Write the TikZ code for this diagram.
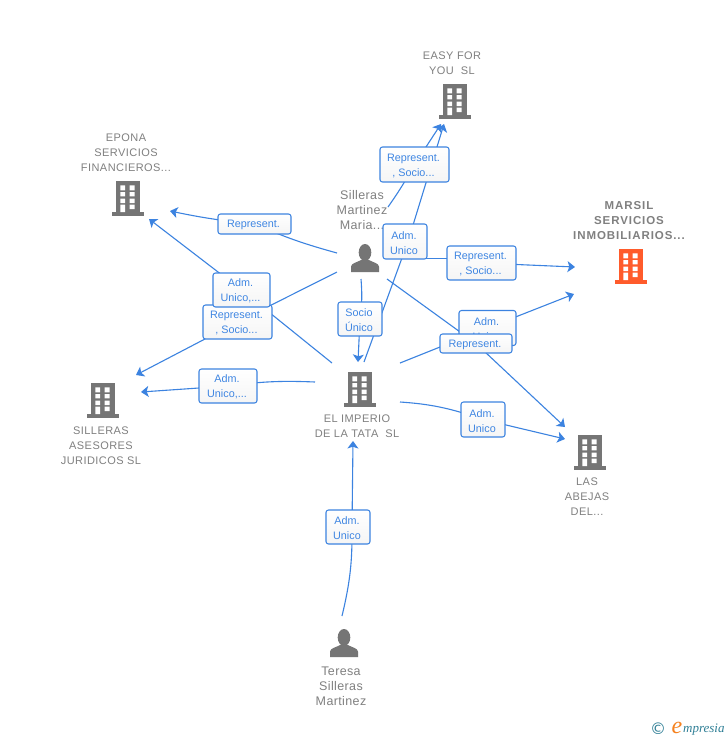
\documentclass[tikz,border=0pt]{standalone}
\usepackage{fontspec}
\setmainfont{Liberation Sans}
\newfontfamily\logoserif{Liberation Serif}
\newfontfamily\logosym{DejaVu Sans}
\usetikzlibrary{arrows.meta,shapes.geometric}
\definecolor{conn}{HTML}{3C83E0}
\definecolor{lbltext}{HTML}{3F86E2}
\definecolor{icongrey}{HTML}{757575}
\definecolor{titlegrey}{HTML}{808080}
\definecolor{orangeicon}{HTML}{FF5B2B}
\definecolor{logoteal}{HTML}{2F7F96}
\definecolor{logoorange}{HTML}{F58220}
\newcommand\ltwo[2]{\rule{0pt}{10.2pt}#1\hspace*{2pt}\\#2\hspace*{2pt}}
\newcommand\lone[1]{\rule{0pt}{9.6pt}#1\hspace*{2pt}}
\tikzset{
  bldg/.pic={
    \path[pic actions] (-16,14) rectangle (16,17.5);
    \path[pic actions] (-12,-17.5) rectangle (11.5,14.5);
    \fill[white] (-7.7,-12.7) rectangle (-3,-7.7) (1.7,-12.7) rectangle (6.7,-7.7)
      (-7.7,-6) rectangle (-3,-1.7) (1.7,-6) rectangle (6.7,-1.7)
      (-7.7,0.7) rectangle (-3,5) (1.7,0.7) rectangle (6.7,5)
      (-7.7,6.7) rectangle (-3,14.2) (1.7,6.7) rectangle (6.7,11);
  },
  persona/.pic={
    \path[pic actions] (0,-5.5) ellipse [x radius=6.3, y radius=8.5];
    \path[pic actions] (-14,14) -- (-14,8.5) .. controls (-13.5,5) and (-8,4.5) .. (-4,2) -- (4,2)
      .. controls (8,4.5) and (13.5,5) .. (14,8.5) -- (14,14) -- cycle;
  },
  lbl/.style={draw=conn, line width=1.05pt, rounded corners=2.5pt, top color=white, bottom color=black!4,
    text=lbltext, align=center, inner sep=0pt, font=\fontsize{10.8}{15}\selectfont},
  ttl/.style={text=titlegrey, align=center, inner sep=0pt, font=\fontsize{11}{15}\selectfont\addfontfeatures{LetterSpace=4}},
  ttlb/.style={text=titlegrey, align=center, inner sep=0pt, font=\fontsize{11.5}{15}\selectfont\bfseries\addfontfeatures{LetterSpace=8}},
  ttlp/.style={text=titlegrey, align=center, inner sep=0pt, font=\fontsize{12.5}{15}\selectfont\addfontfeatures{LetterSpace=3}},
  edgeline/.style={draw=conn, line width=1.1pt},
  arr/.style={edgeline, -{Stealth[length=7.5pt,width=11pt,inset=1.8pt]}},
  anchorpt/.style={inner sep=0pt, minimum size=0pt},
}
\begin{document}
\begin{tikzpicture}[x=1pt,y=-1pt]
\useasboundingbox (0,0) rectangle (728,740);
\fill[white] (0,0) rectangle (728,740);
% icons
\pic[fill=icongrey] at (455,101) {bldg};
\pic[fill=icongrey] at (128,198) {bldg};
\pic[fill=orangeicon] at (631,266) {bldg};
\pic[fill=icongrey] at (103,400) {bldg};
\pic[fill=icongrey] at (360,389) {bldg};
\pic[fill=icongrey] at (590,452) {bldg};
\pic[fill=icongrey] at (365,258) {persona};
\pic[fill=icongrey] at (344,643) {persona};
% titles
\node[ttl] (easy) at (452,63) {EASY FOR\\YOU\ \ SL};
\node[ttl] (epona) at (126,153) {EPONA\\SERVICIOS\\FINANCIEROS...};
\node[ttlb] (marsil) at (629,220.5) {MARSIL\\SERVICIOS\\INMOBILIARIOS...};
\node[ttlp] (maria) at (362,210) {Silleras\\Martinez\\Maria...};
\node[ttl] (asesores) at (101,445.5) {SILLERAS\\ASESORES\\JURIDICOS SL};
\node[ttl] (imperio) at (357,426) {EL IMPERIO\\DE LA TATA\ \ SL};
\node[ttl] (abejas) at (587,496.5) {LAS\\ABEJAS\\DEL...};
\node[ttlp] (teresa) at (341,686) {Teresa\\Silleras\\Martinez};
% free ends
\coordinate (s1) at (337,253); \coordinate (t1) at (170,211);
\coordinate (s2) at (332,363); \coordinate (t2) at (149,219);
\coordinate (s3) at (337,272); \coordinate (t3) at (136,375);
\coordinate (s4) at (315,382); \coordinate (t4) at (141,392);
\coordinate (s5) at (388,207); \coordinate (t5) at (441,124);
\coordinate (s6) at (364,362); \coordinate (t6) at (444,124);
\coordinate (s7) at (388,258.5); \coordinate (t7) at (575,267);
\coordinate (s8) at (400,363); \coordinate (t8) at (574,294);
\coordinate (s9) at (387,279); \coordinate (t9) at (565,427);
\coordinate (s10) at (400,402); \coordinate (t10) at (565,439);
\coordinate (s11) at (361,279); \coordinate (t11) at (358,362);
\coordinate (s12) at (342,616); \coordinate (t12) at (353,441);
% label positions
\coordinate (p1) at (254.5,224);
\coordinate (p2) at (241.5,290);
\coordinate (p3) at (237.5,322);
\coordinate (p4) at (228,386);
\coordinate (p5) at (414.5,164.5);
\coordinate (p6) at (405,241.5);
\coordinate (p7) at (481.5,263);
\coordinate (p8) at (487.5,328);
\coordinate (p9) at (476,343.5);
\coordinate (p10) at (483,419.5);
\coordinate (p11) at (360,319);
\coordinate (p12) at (348,527);
% points the connectors pass under the labels
\coordinate (q6) at (408,241.5);
\coordinate (q7) at (481,258.5);
\coordinate (q12) at (352,527);
% connectors
\draw[edgeline] (s1) to[bend left=4] (p1); \draw[arr] (p1) to[bend left=3] (t1);
\draw[edgeline] (s2) -- (p2); \draw[arr] (p2) -- (t2);
\draw[edgeline] (s3) -- (p3); \draw[arr] (p3) -- (t3);
\draw[edgeline] (s4) to[bend right=5] (p4); \draw[arr] (p4) -- (t4);
\draw[edgeline] (s5) to[bend right=3] (p5); \draw[arr] (p5) -- (t5);
\draw[edgeline] (s6) -- (q6); \draw[arr] (q6) -- (t6);
\draw[edgeline] (s7) -- (q7); \draw[arr] (p7) -- (t7);
\draw[edgeline] (s8) -- (p8); \draw[arr] (p8) -- (t8);
\draw[edgeline] (s9) -- (p9); \draw[arr] (p9) -- (t9);
\draw[edgeline] (s10) .. controls (430,404) and (450,408) .. (p10); \draw[arr] (p10) -- (t10);
\draw[edgeline] (s11) to[bend left=6] (p11); \draw[arr] (p11) -- (t11);
\draw[edgeline] (s12) to[bend right=7] (q12); \draw[arr] (q12) -- (t12);
% labels
\node[lbl, minimum width=73pt, minimum height=20pt] (l1) at (p1) {\lone{Represent.}};
\node[lbl, minimum width=69pt, minimum height=34pt] (l3) at (p3) {\ltwo{Represent.}{, Socio...}};
\node[lbl, minimum width=57pt, minimum height=34pt] (l2) at (p2) {\ltwo{Adm.}{Unico,...}};
\node[lbl, minimum width=58pt, minimum height=34pt] (l4) at (p4) {\ltwo{Adm.}{Unico,...}};
\node[lbl, minimum width=69pt, minimum height=35pt] (l5) at (p5) {\ltwo{Represent.}{, Socio...}};
\node[lbl, minimum width=44pt, minimum height=35pt] (l6) at (p6) {\ltwo{Adm.}{Unico}};
\node[lbl, minimum width=69pt, minimum height=34pt] (l7) at (p7) {\ltwo{Represent.}{, Socio...}};
\node[lbl, minimum width=57pt, minimum height=35pt] (l8) at (p8) {\ltwo{Adm.}{Unico}};
\node[lbl, minimum width=72pt, minimum height=19pt] (l9) at (p9) {\lone{Represent.}};
\node[lbl, minimum width=44pt, minimum height=35pt] (l10) at (p10) {\ltwo{Adm.}{Unico}};
\node[lbl, minimum width=44pt, minimum height=34pt] (l11) at (p11) {\ltwo{Socio}{Único}};
\node[lbl, minimum width=44pt, minimum height=34pt] (l12) at (p12) {\ltwo{Adm.}{Unico}};
% logo
\node[anchorpt, text=logoteal, font=\logosym\fontsize{16}{16}\selectfont] (logoc) at (658,729) {©};
\node[anchorpt, text=logoorange, font=\logoserif\itshape\fontsize{24}{24}\selectfont] (logoe) at (677,728) {e};
\node[anchorpt, anchor=west, text=logoteal, font=\logoserif\itshape\fontsize{13}{13}\selectfont] (logot) at (683,730) {mpresia};
\end{tikzpicture}
\end{document}
